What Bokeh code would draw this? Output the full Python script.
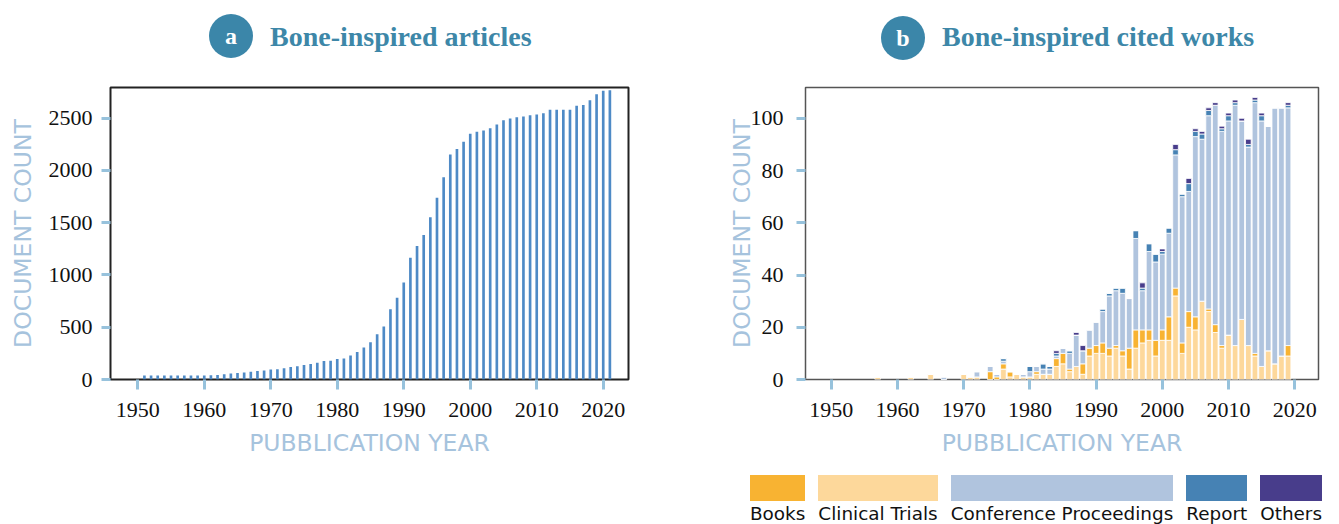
from bokeh.plotting import figure
from bokeh.layouts import column, row
from bokeh.models import Div, Range1d, FixedTicker, ColumnDataSource
from bokeh.embed import file_html
from bokeh.resources import INLINE

# ---------------- data ----------------
panel_letters = ["a", "b"]
panel_titles = ["Bone-inspired articles", "Bone-inspired cited works"]

article_years = list(range(1951, 2022))
article_counts = [
    38, 38, 38, 38, 38, 38, 38, 38, 38, 38,
    41, 44, 50, 57, 63, 66, 73, 82, 85, 95,
    98, 107, 120, 126, 139, 148, 161, 177, 180, 196,
    202, 230, 262, 306, 357, 433, 508, 672, 783, 928,
    1165, 1278, 1383, 1553, 1739, 1935, 2153, 2206, 2276, 2352,
    2371, 2383, 2405, 2440, 2481, 2497, 2509, 2516, 2528, 2535,
    2547, 2582, 2582, 2582, 2582, 2620, 2626, 2673, 2730, 2763,
    2768,
]

cited_years = [1957, 1962, 1965, 1967, 1970, 1971, 1972, 1974, 1975, 1976,
               1977, 1978, 1979, 1980, 1981, 1982, 1983, 1984, 1985, 1986,
               1987, 1988, 1989, 1990, 1991, 1992, 1993, 1994, 1995, 1996,
               1997, 1998, 1999, 2000, 2001, 2002, 2003, 2004, 2005, 2006,
               2007, 2008, 2009, 2010, 2011, 2012, 2013, 2014, 2015, 2016,
               2017, 2018, 2019]
clinical_trials = [1, 1, 2, 0, 2, 1, 1, 0, 0, 4,
                   1, 2, 1, 1, 2, 2, 2, 5, 6, 3,
                   5, 2, 9, 10, 10, 9, 12, 9, 4, 12,
                   14, 15, 9, 15, 15, 32, 10, 20, 19, 30,
                   26, 18, 12, 17, 13, 23, 13, 9, 5, 11,
                   6, 9, 9]
books = [0, 0, 0, 0, 0, 0, 0, 3, 1, 2,
         2, 0, 0, 0, 1, 0, 0, 3, 4, 1,
         0, 4, 3, 3, 4, 3, 1, 2, 8, 7,
         5, 4, 6, 4, 9, 3, 4, 6, 5, 0,
         1, 3, 1, 0, 0, 0, 0, 1, 0, 0,
         0, 0, 4]
conference = [0, 0, 0, 1, 0, 0, 2, 2, 1, 1,
              0, 0, 1, 2, 2, 2, 2, 1, 2, 6,
              12, 5, 7, 9, 12, 20, 21, 22, 19, 35,
              15, 30, 30, 29, 32, 51, 56, 46, 69, 62,
              74, 84, 82, 82, 92, 76, 76, 96, 94, 86,
              98, 95, 91]
report = [0, 0, 0, 0, 0, 0, 0, 0, 0, 1,
          0, 0, 0, 2, 0, 2, 1, 1, 0, 1,
          0, 0, 0, 0, 1, 1, 1, 2, 0, 3,
          1, 3, 3, 1, 2, 2, 1, 3, 2, 2,
          2, 0, 1, 2, 1, 0, 1, 1, 2, 0,
          0, 0, 1]
others = [0, 0, 0, 0, 0, 0, 0, 0, 0, 0,
          0, 0, 0, 0, 0, 0, 0, 1, 0, 0,
          1, 2, 0, 0, 0, 0, 0, 0, 0, 0,
          2, 0, 0, 1, 0, 2, 0, 2, 1, 1,
          1, 1, 1, 1, 1, 1, 2, 1, 1, 0,
          0, 0, 1]

series_names = ["Clinical Trials", "Books", "Conference Proceedings", "Report", "Others"]
series_colors = ["#FDD89B", "#F8B332", "#B0C4DE", "#4682B4", "#483D8B"]
legend_order = ["Books", "Clinical Trials", "Conference Proceedings", "Report", "Others"]

x_ticks = [1950, 1960, 1970, 1980, 1990, 2000, 2010, 2020]
y_ticks_a = [0, 500, 1000, 1500, 2000, 2500]
y_ticks_b = [0, 20, 40, 60, 80, 100]

# ---------------- styles ----------------
TITLE_BLUE = "#3D87A8"
AXIS_BLUE = "#A6C3DD"
TICK_BLUE = "#97C2DC"
TICK_FONT = "Liberation Serif"
LABEL_FONT = "DejaVu Sans"


def style(p, yticks, outline_color, outline_width):
    p.xgrid.visible = False
    p.ygrid.visible = False
    p.outline_line_color = outline_color
    p.outline_line_width = outline_width
    p.xaxis.ticker = FixedTicker(ticks=x_ticks)
    p.yaxis.ticker = FixedTicker(ticks=yticks)
    for ax in (p.xaxis[0], p.yaxis[0]):
        ax.axis_line_color = None
        ax.major_tick_line_color = TICK_BLUE
        ax.major_tick_line_width = 3
        ax.major_tick_in = 0
        ax.minor_tick_line_color = None
        ax.major_label_text_font = TICK_FONT
        ax.major_label_text_font_size = "22px"
        ax.major_label_text_color = "#111111"
        ax.axis_label_text_font = LABEL_FONT
        ax.axis_label_text_font_size = "23.5px"
        ax.axis_label_text_font_style = "normal"
        ax.axis_label_text_color = AXIS_BLUE
    p.xaxis.major_tick_out = 10
    p.yaxis.major_tick_out = 9
    p.xaxis.axis_label = "PUBBLICATION YEAR"
    p.yaxis.axis_label = "DOCUMENT COUNT"
    p.xaxis.major_label_standoff = 13
    p.yaxis.major_label_standoff = 9
    p.xaxis.axis_label_standoff = 9
    p.yaxis.axis_label_standoff = 9


# ---------------- panel a ----------------
pa = figure(width=688, height=400, output_backend="svg", toolbar_location=None,
            x_range=Range1d(1945.9, 2023.8), y_range=Range1d(0, 2794),
            min_border_left=110, min_border_right=60, min_border_top=16,
            min_border_bottom=89, background_fill_color="white")
src_a = ColumnDataSource(dict(year=article_years, count=article_counts))
pa.vbar(x="year", top="count", width=0.4, source=src_a, fill_color="#4E8AC6",
        line_color=None)
style(pa, y_ticks_a, "#222222", 2)

# ---------------- panel b ----------------
pb = figure(width=643, height=400, output_backend="svg", toolbar_location=None,
            x_range=Range1d(1946.1, 2023.6), y_range=Range1d(0, 111.8),
            min_border_left=117, min_border_right=13, min_border_top=19,
            min_border_bottom=87, background_fill_color="white")
src_b = ColumnDataSource(dict(year=cited_years, **{
    "Clinical Trials": clinical_trials, "Books": books,
    "Conference Proceedings": conference, "Report": report, "Others": others}))
pb.vbar_stack(series_names, x="year", width=0.85, color=series_colors,
              line_color="white", line_width=0.8, source=src_b)
style(pb, y_ticks_b, "#555555", 1.5)
pb.yaxis.major_label_standoff = 13
pb.yaxis.axis_label_standoff = -8

# ---------------- header & legend (HTML) ----------------
def badge(left, top, letter):
    return (f'<div style="position:absolute;left:{left}px;top:{top}px;width:44px;height:44px;'
            f'border-radius:50%;background:#3B86A9;color:white;display:flex;align-items:center;'
            f'justify-content:center;font-family:\'Liberation Serif\';font-weight:bold;font-size:24px;">'
            f'{letter}</div>')


def title(left, top, text):
    return (f'<div style="position:absolute;left:{left}px;top:{top}px;white-space:nowrap;'
            f'font-family:\'Liberation Serif\';font-weight:bold;font-size:28px;line-height:28px;'
            f'color:{TITLE_BLUE};">{text}</div>')


header_html = ('<div style="position:relative;width:1331px;height:68px;">'
               + badge(209, 14, panel_letters[0]) + title(270, 23, panel_titles[0])
               + badge(881, 16, panel_letters[1]) + title(942, 23, panel_titles[1])
               + '</div>')
header = Div(text=header_html, width=1331, height=68, margin=0)

color_of = dict(zip(series_names, series_colors))
items = "".join(
    f'<div style="display:flex;flex-direction:column;">'
    f'<div style="height:26px;background:{color_of[n]};"></div>'
    f'<div style="margin-top:3px;font-family:\'DejaVu Sans\';font-size:18.4px;line-height:20px;color:#111;'
    f'white-space:nowrap;">{n}</div></div>'
    for n in legend_order)
legend_html = ('<div style="position:relative;width:1331px;height:56px;">'
               '<div style="position:absolute;left:750px;top:7px;display:flex;gap:13px;">'
               + items + '</div></div>')
legend = Div(text=legend_html, width=1331, height=56, margin=0)

layout = column(header, row(pa, pb), legend)

html = file_html(layout, INLINE, title="Bone-inspired")
html = html.replace("<head>", "<head><style>html,body{overflow:hidden;}</style>", 1)
open("out.html", "w").write(html)
